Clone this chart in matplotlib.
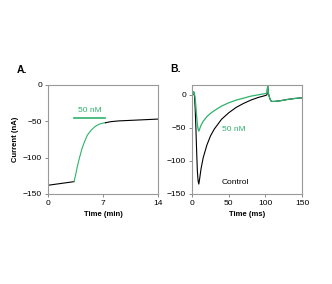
import numpy as np
import matplotlib.pyplot as plt

plt.rcParams['font.family'] = ['Liberation Sans', 'DejaVu Sans']

green = '#2db36b'

# panel A: current vs time (min)
a_pre_t = [0, 1, 2, 3, 3.3]
a_pre_i = [-138, -136.5, -135, -133.5, -133]
a_drug_t = [3.3, 3.5, 3.7, 4.0, 4.3, 4.6, 5.0, 5.5, 6.0, 6.5, 7.0, 7.3]
a_drug_i = [-133, -124, -113, -100, -88, -79, -69, -62, -57, -54, -52.5, -52]
a_post_t = [7.3, 8, 9, 10, 11, 12, 13, 14]
a_post_i = [-52, -50.5, -49.5, -49, -48.5, -48, -47.5, -47]
a_bar = [3.3, 7.3]

# panel B: current vs time (ms)
b_t = [0, 1, 2, 3, 4, 5, 6, 7, 8, 9, 10, 12, 15, 20, 25, 30, 40, 50, 60, 70,
       80, 90, 100, 102, 103, 104, 106, 108, 112, 120, 130, 140, 150]
b_control = [0, 0, 3, 0, -20, -50, -85, -115, -130, -135, -128, -112, -95, -76, -62,
             -52, -37, -27, -19, -13, -8, -4, -1, 0, 14, 2, -6, -10, -10, -9, -7, -5.5, -4.5]
b_50nm = [0, 0, 5, 2, -5, -18, -32, -44, -52, -55, -52, -46, -40, -33, -28,
          -24, -17, -12, -8, -5, -2, 0, 2, 3, 14, 2, -6, -10, -10, -9, -7, -5.5, -4.5]

fig = plt.figure(figsize=(3.32, 2.84), dpi=100)
axA = fig.add_axes([0.145, 0.317, 0.331, 0.384])
axB = fig.add_axes([0.579, 0.317, 0.331, 0.384])

for ax in (axA, axB):
    for s in ax.spines.values():
        s.set_color('#999999')
        s.set_linewidth(0.8)
    ax.tick_params(labelsize=6, length=2.5, width=0.6, color='#777777', pad=2)

axA.plot(a_pre_t, a_pre_i, color='black', lw=0.8)
axA.plot(a_drug_t, a_drug_i, color=green, lw=0.8)
axA.plot(a_post_t, a_post_i, color='black', lw=0.8)
axA.plot(a_bar, [-45, -45], color=green, lw=1.2)
axA.text(sum(a_bar) / 2, -40, '50 nM', color=green, fontsize=6, ha='center', va='bottom')
axA.set_xlim(0, 14)
axA.set_ylim(-150, 0)
axA.set_xticks([0, 7, 14])
axA.set_yticks([0, -50, -100, -150])
axA.set_xlabel('Time (min)', fontsize=5.5, fontweight='bold', labelpad=3)
axA.set_ylabel('Current (nA)', fontsize=5.5, fontweight='bold', labelpad=3)

axB.plot(b_t, b_control, color='black', lw=0.8)
axB.plot(b_t, b_50nm, color=green, lw=0.9)
axB.text(40, -52, '50 nM', color=green, fontsize=6, va='center')
axB.text(40, -133, 'Control', color='black', fontsize=6, va='center')
axB.set_xlim(0, 150)
axB.set_ylim(-150, 15)
axB.set_xticks([0, 50, 100, 150])
axB.set_yticks([0, -50, -100, -150])
axB.set_xlabel('Time (ms)', fontsize=5.5, fontweight='bold', labelpad=3)

fig.text(0.05, 0.754, 'A.', fontsize=7.5, fontweight='bold', va='center')
fig.text(0.512, 0.757, 'B.', fontsize=7.5, fontweight='bold', va='center')

fig.savefig('out.png', dpi=100)
